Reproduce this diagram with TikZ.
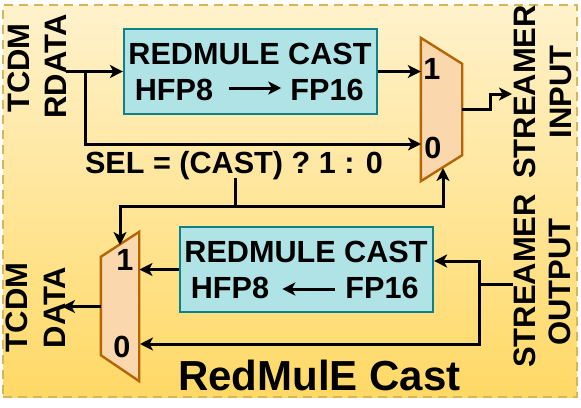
\documentclass[tikz,border=0pt]{standalone}
\usepackage{fontspec}
\setmainfont{Liberation Sans}
\usepackage{xcolor}
\usetikzlibrary{arrows.meta, positioning, calc}
\definecolor{castfill}{HTML}{B0E3E6}
\definecolor{castline}{HTML}{0E8088}
\definecolor{muxfill}{HTML}{FAD7AC}
\definecolor{muxline}{HTML}{B46504}
\definecolor{outerline}{HTML}{D6B656}
\definecolor{outertop}{HTML}{FFF2CC}
\definecolor{outerbot}{HTML}{FFD966}

\begin{document}
\begin{tikzpicture}[
    x=1pt, y=-1pt,
    castbox/.style={rectangle, draw=castline, fill=castfill, line width=2.2pt, minimum width=253pt, minimum height=85pt, inner sep=0pt},
    muxbox/.style={rectangle, inner sep=0pt, minimum width=41pt, minimum height=143pt},
    muxedge/.style={draw=muxline, fill=muxfill, line width=2.4pt, line join=miter},
    lbl/.style={font=\fontsize{30.6}{31}\selectfont\bfseries, inner sep=0pt},
    sidelbl/.style={font=\fontsize{31}{31}\selectfont\bfseries, inner sep=0pt, rotate=90},
    arr/.style={-{Stealth[length=13pt, width=13pt, inset=3.5pt]}, line width=3pt},
    wire/.style={line width=3pt}
]
\useasboundingbox (0, 0) rectangle (581, 407);

\node[rectangle, draw=outerline, line width=2.4pt, top color=outertop, bottom color=outerbot, minimum width=574pt, minimum height=392pt, inner sep=0pt, dash pattern=on 9pt off 6pt] (outer) at (290, 201) {};

% upper path
\node[castbox] (box1) at (250.5, 71.5) {};
\node[lbl] (title1) at (250, 53.5) {REDMULE CAST};
\node[lbl] (hfp1) at (174, 90) {HFP8};
\node[lbl] (fp1) at (327, 90) {FP16};
\node[muxbox] (mux1) at (441.5, 109.5) {};
\draw[muxedge] (mux1.north west) -- ($(mux1.north east)+(0, 26)$) -- ($(mux1.south east)+(0, -26)$) -- (mux1.south west) -- cycle;
\node[lbl] (one1) at (432, 69) {1};
\node[lbl] (zero1) at (433, 148) {0};

% lower path
\node[castbox] (box2) at (306.5, 269.5) {};
\node[lbl] (title2) at (306, 252) {REDMULE CAST};
\node[lbl] (hfp2) at (230, 288) {HFP8};
\node[lbl] (fp2) at (382, 288) {FP16};
\node[muxbox, minimum width=38pt, minimum height=149pt] (mux2) at (120, 306.5) {};
\draw[muxedge] (mux2.north east) -- ($(mux2.north west)+(0, 25)$) -- ($(mux2.south west)+(0, -26)$) -- (mux2.south east) -- cycle;
\node[lbl] (one2) at (125, 260) {1};
\node[lbl] (zero2) at (122, 347) {0};

% side labels
\node[sidelbl] (tcdmin) at (19, 68) {TCDM};
\node[sidelbl] (rdata) at (55.5, 66.5) {RDATA};
\node[sidelbl] (strin) at (524.5, 92) {STREAMER};
\node[sidelbl] (input) at (560.5, 92) {INPUT};
\node[sidelbl] (strout) at (524.5, 281) {STREAMER};
\node[sidelbl] (output) at (560, 282) {OUTPUT};
\node[sidelbl] (tcdmout) at (17, 307.5) {TCDM};
\node[sidelbl] (dataout) at (55, 307.5) {DATA};

\node[lbl] (sel) at (234, 166) {SEL = (CAST) ? 1 : 0};
\node[font=\fontsize{42}{42}\selectfont\bfseries, inner sep=0pt] (name) at (319.5, 375) {RedMulE Cast};

\coordinate (rdin) at (66, 71.5);
\coordinate (split) at (85, 71.5);
\coordinate (selbus) at (235, 206);
\coordinate (strpt) at (512, 94);
\coordinate (strsrc) at (513, 284);
\coordinate (splitout) at (479, 284);

\draw[arr] (rdin) -- (box1.west);
\draw[arr] (split) |- (421, 144);
\draw[arr] (box1.east) -- (box1.east -| mux1.west);
\draw[arr] (mux1.east) -- ++(28, 0) |- (strpt);
\draw[arr] (hfp1.east) ++(16, -2) -- ($(fp1.west)+(-9, -2)$);
\draw[arr] (fp2.west) ++(-10, 1) -- ($(hfp2.east)+(13, 1)$);

\draw[wire] (235, 178) -- (selbus);
\draw[arr] (selbus) -| (120, 245);
\draw[arr] (selbus) -| (443, 168);

\draw[arr] (box2.west) -- (139.5, 269.5);
\draw[arr] (mux2.west) -- (62, 306.5);
\draw[wire] (strsrc) -- (splitout);
\draw[arr] (splitout) |- (box2.east |- 0, 261);
\draw[arr] (splitout) |- (140, 344);

\end{tikzpicture}
\end{document}
